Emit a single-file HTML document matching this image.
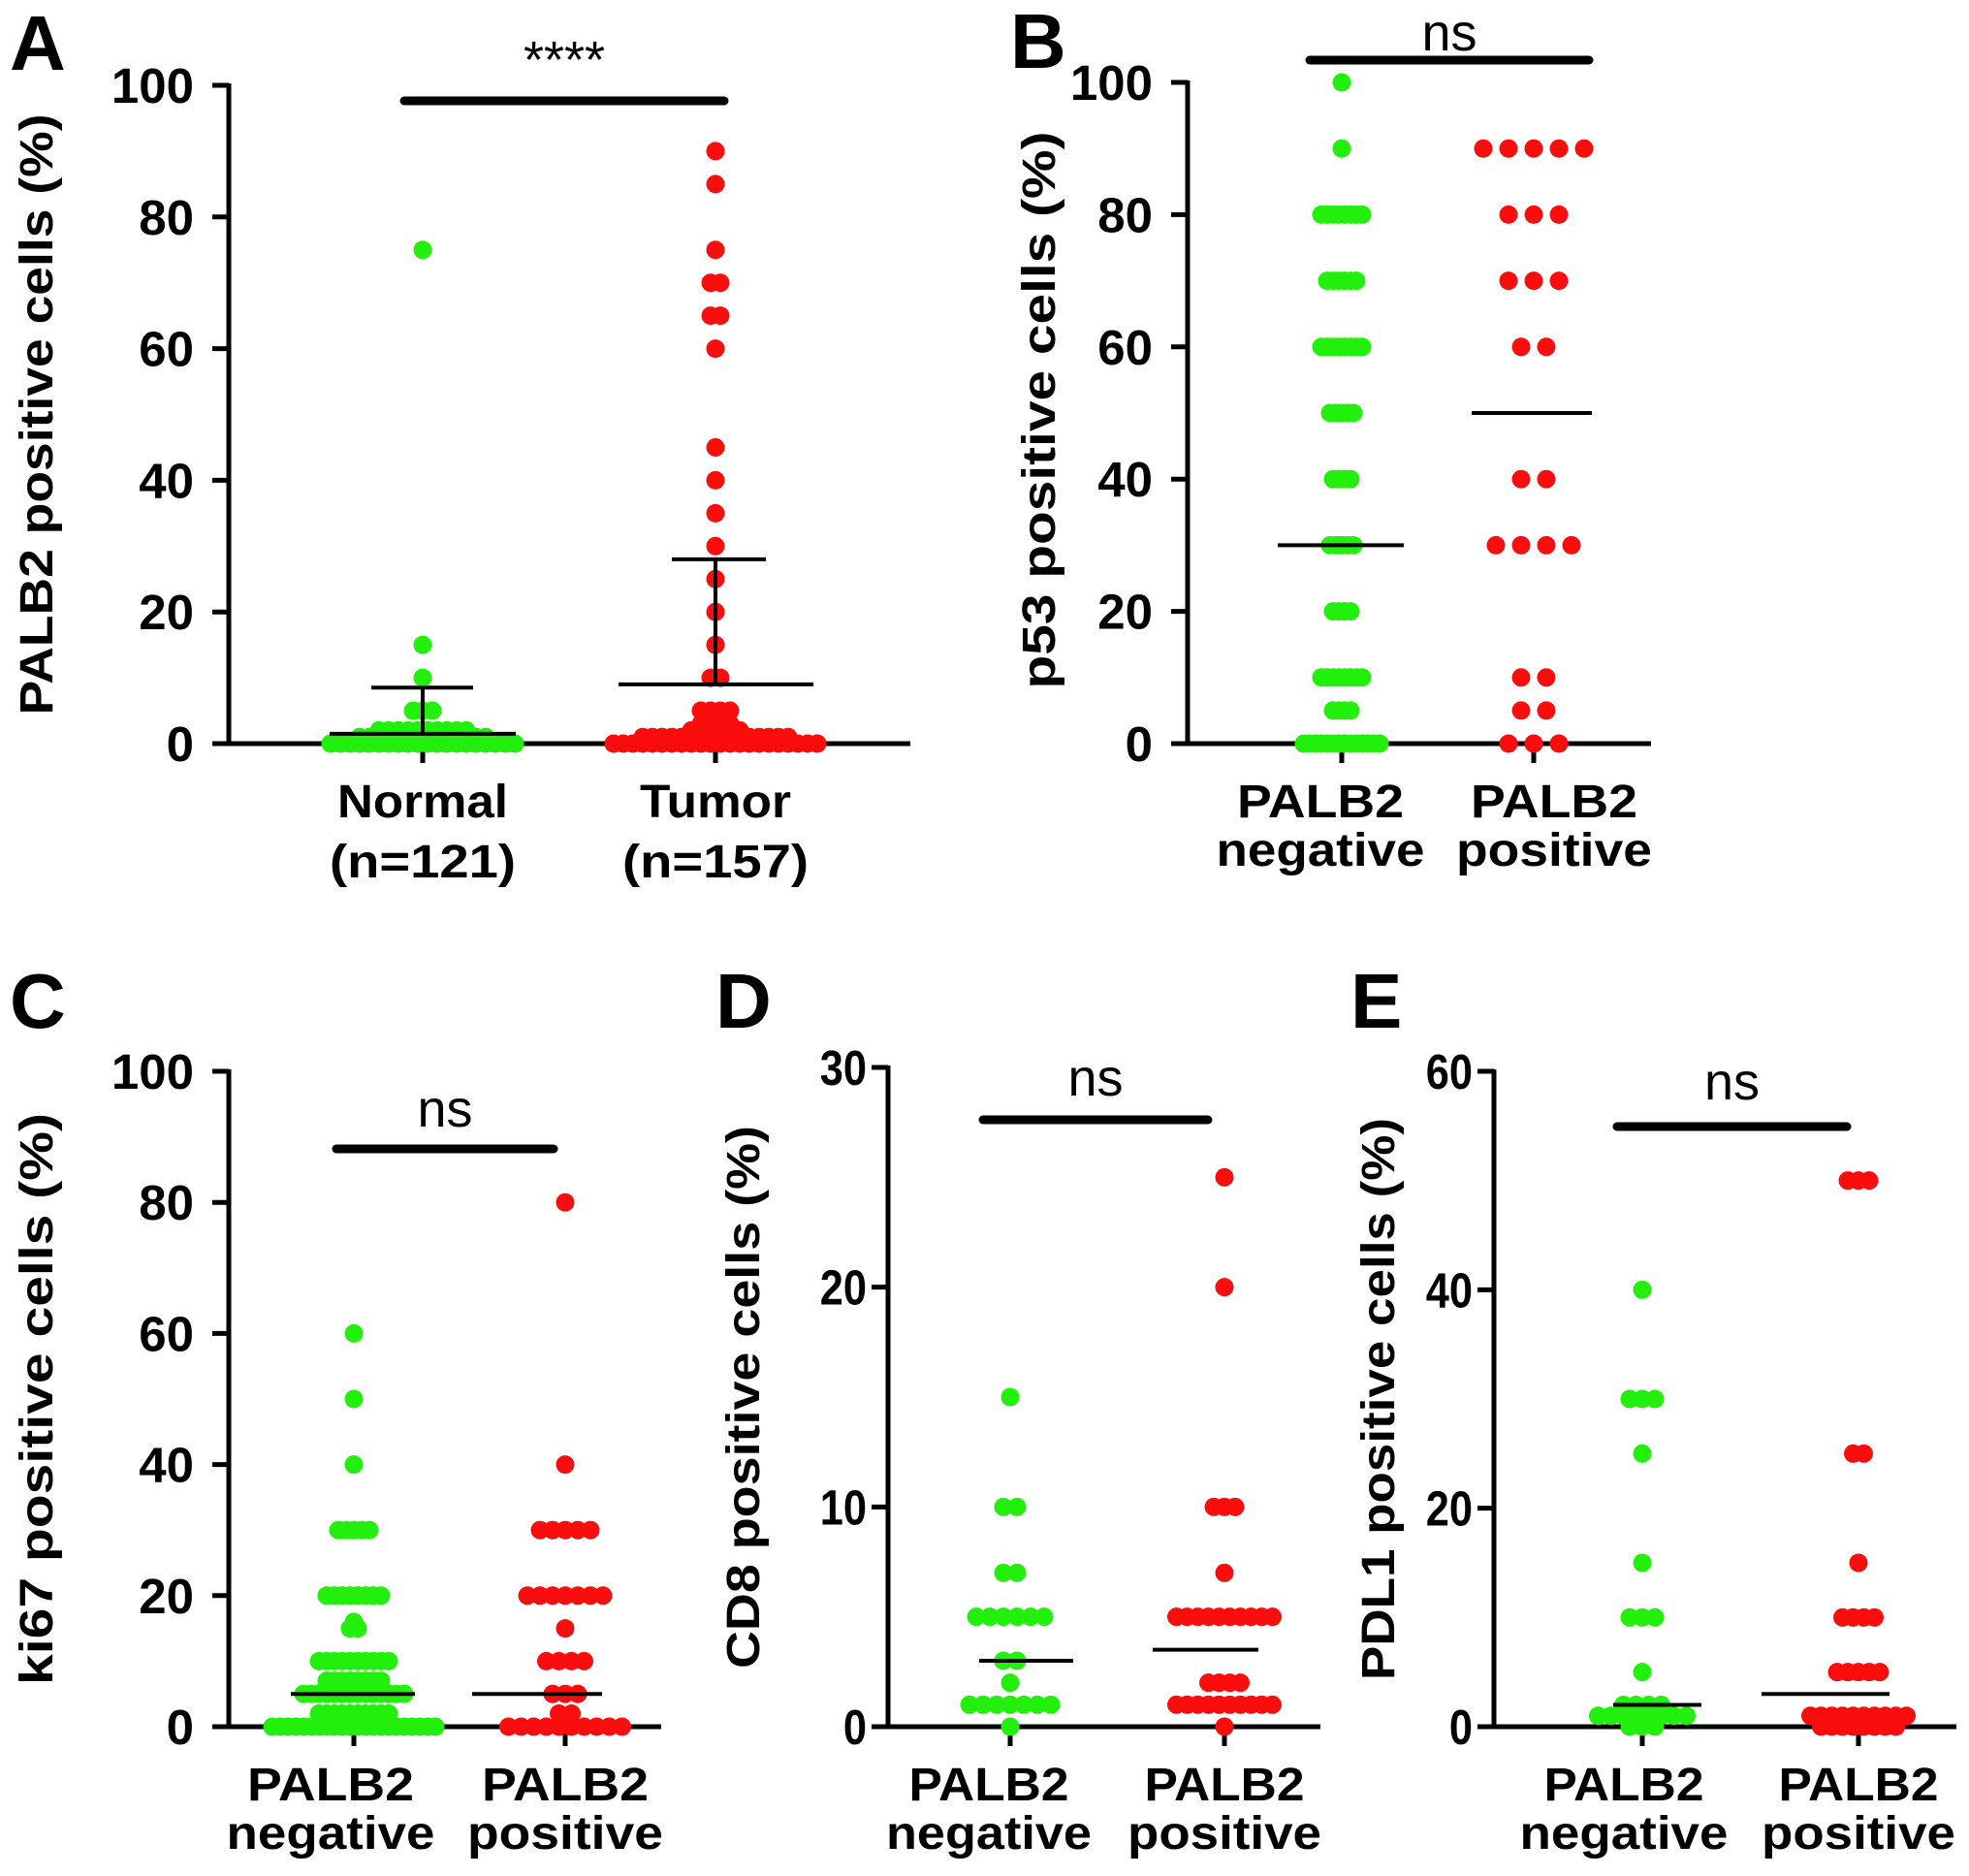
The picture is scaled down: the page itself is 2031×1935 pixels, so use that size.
<!DOCTYPE html>
<html><head><meta charset="utf-8">
<style>
html,body{margin:0;padding:0;background:#fff;}
svg{display:block;font-family:"Liberation Sans",Arial,sans-serif;font-weight:bold;}
</style></head>
<body>
<svg id="fig" width="2031" height="1935" viewBox="0 0 2031 1935" xmlns="http://www.w3.org/2000/svg"></svg>
<script>
// Panel A data: [value, count]
const aNormal = [[0,20],[1,14],[2,10],[5,3],[10,1],[15,1],[75,1]];
const aTumor = [[0,22],[1,16],[2,6],[3,4],[5,4],[10,2],[15,1],[20,1],[25,1],[30,1],[35,1],[40,1],[45,1],[60,1],[65,2],[70,2],[75,1],[85,1],[90,1]];
const aMean = [1.5, 9];
const aSD = [8.5, 28];
const aTicks = [0,20,40,60,80,100];
// Panel B
const bNeg = [[0,14],[5,4],[10,8],[20,4],[30,5],[40,4],[50,5],[60,8],[70,6],[80,8],[90,1],[100,1]];
const bPos = [[0,3],[5,2],[10,2],[30,4],[40,2],[60,2],[70,3],[80,3],[90,5]];
const bMed = [30, 50];
const bTicks = [0,20,40,60,80,100];
// Panel C
const cNeg = [[0,22],[2,10],[5,14],[7,8],[10,10],[15,2],[16,1],[20,8],[30,5],[40,1],[50,1],[60,1]];
const cPos = [[0,10],[2,2],[5,3],[10,4],[15,1],[20,7],[30,5],[40,1],[80,1]];
const cMed = [5, 5];
const cTicks = [0,20,40,60,80,100];
// Panel D
const dNeg = [[0,1],[1,7],[2,1],[3,2],[5,6],[7,2],[10,2],[15,1]];
const dPos = [[0,1],[1,10],[2,4],[5,10],[7,1],[10,3],[20,1],[25,1]];
const dMed = [3, 3.5];
const dTicks = [0,10,20,30];
// Panel E
const eNeg = [[0,3],[1,8],[2,4],[5,1],[10,3],[15,1],[25,1],[30,3],[40,1]];
const ePos = [[0,8],[1,10],[5,5],[10,4],[15,1],[25,2],[50,3]];
const eMed = [2, 3];
const eTicks = [0,20,40,60];

const NS="http://www.w3.org/2000/svg";
const svg=document.getElementById('fig');
function mk(tag,attrs,parent,text){const e=document.createElementNS(NS,tag);for(const k in attrs)e.setAttribute(k,attrs[k]);if(text!==undefined)e.textContent=text;(parent||svg).appendChild(e);return e;}

function panel(p){
  const g=mk('g',{});
  
  
  const y=v=>p.y0-(v-p.min)/(p.max-p.min)*(p.y0-p.yTop);
  const L=mk('text',{x:p.letterX,y:p.letterY,'font-size':80},g,p.letter);
  
  
  const ya=mk('line',{x1:p.ax,y1:p.yTop-2,x2:p.ax,y2:p.y0,stroke:'#000','stroke-width':5},g);
  
  
  const xa=mk('line',{x1:p.ax,y1:p.y0,x2:p.axEnd,y2:p.y0,stroke:'#000','stroke-width':5},g);
  
  
  p.ticks.forEach(t=>{
    mk('line',{x1:p.ax-17,y1:y(t),x2:p.ax,y2:y(t),stroke:'#000','stroke-width':5},g);
    const tx=p.ax-(p.cond?22:36);
    const tl=mk('text',{x:tx,y:y(t)+18,'font-size':p.tickFs,'text-anchor':'end',transform:p.cond?`translate(${tx},0) scale(0.85,1) translate(${-tx},0)`:''},g,String(t));
    
    
  });
  const cy=(p.y0+p.yTop)/2+p.titleDy;
  const yt=mk('text',{x:0,y:0,'font-size':p.titleFs,'text-anchor':'middle',textLength:p.titleLen,lengthAdjust:'spacingAndGlyphs',transform:`translate(${p.titleX},${cy}) rotate(-90)`},g,p.title);
  
  
  p.groups.forEach((gr,i)=>{
    const gx=p.gx[i];
    mk('line',{x1:gx,y1:p.y0,x2:gx,y2:p.y0+20,stroke:'#000','stroke-width':5},g);
    gr.data.forEach(([v,c])=>{
      for(let k=0;k<c;k++){
        const cx=gx+(k-(c-1)/2)*gr.step;
        const d=mk('circle',{cx:cx,cy:y(v),r:9.5,fill:gr.color},g);
        
        
      }
    });
    gr.labels.forEach((lb,j)=>{
      const t=mk('text',{x:p.labX[i],y:p.labY+j*p.labDy,'font-size':p.labFs,'text-anchor':'middle',textLength:gr.labLen[j],lengthAdjust:'spacingAndGlyphs'},g,lb);
      
      
    });
  });
  p.lines.forEach(ln=>{
    const l=mk('line',{x1:ln.x1,y1:y(ln.v),x2:ln.x2,y2:y(ln.v),stroke:'#000','stroke-width':4},g);
    
    
  });
  (p.vlines||[]).forEach(vl=>{
    mk('line',{x1:vl.x,y1:y(vl.a),x2:vl.x,y2:y(vl.b),stroke:'#000','stroke-width':4},g);
  });
  const sb=mk('line',{x1:p.sig[0],y1:p.sig[2],x2:p.sig[1],y2:p.sig[2],stroke:'#000','stroke-width':9,'stroke-linecap':'round'},g);
  
  
  const st=mk('text',{x:(p.sig[0]+p.sig[1])/2,y:p.sigTextY,'font-size':54,'font-weight':'normal','text-anchor':'middle'},g,p.sigText);
  
  
}

const G='#22f00c', R='#fb0d0d';
panel({id:'a',letter:'A',letterX:10,letterY:72,ax:236,axEnd:939,y0:767,yTop:88,min:0,max:100,ticks:aTicks,tickFs:51,
  title:'PALB2 positive cells (%)',titleX:54,titleDy:0,titleFs:48,titleLen:620,
  gx:[436,738],labX:[436,738],labY:843,labDy:62,labFs:48,
  groups:[{data:aNormal,step:10,color:G,labels:['Normal','(n=121)'],labLen:[176,192]},
          {data:aTumor,step:10,color:R,labels:['Tumor','(n=157)'],labLen:[156,192]}],
  lines:[{v:aMean[0],x1:340,x2:532},{v:aSD[0],x1:383,x2:488},{v:aMean[1],x1:638,x2:839},{v:aSD[1],x1:693,x2:790}],
  vlines:[{x:436,a:aMean[0],b:aSD[0]},{x:738,a:aMean[1],b:aSD[1]}],
  sig:[417,747,104],sigText:'****',sigTextY:80});
panel({id:'b',letter:'B',letterX:1042,letterY:70,ax:1225,axEnd:1703,y0:767,yTop:85,min:0,max:100,ticks:bTicks,tickFs:51,
  title:'p53 positive cells  (%)',titleX:1088,titleDy:-3,titleFs:48,titleLen:575,
  gx:[1384,1582],labX:[1362,1603],labY:843,labDy:50,labFs:48,
  groups:[{data:bNeg,step:6,color:G,labels:['PALB2','negative'],labLen:[172,215]},
          {data:bPos,step:26,color:R,labels:['PALB2','positive'],labLen:[172,202]}],
  lines:[{v:bMed[0],x1:1318,x2:1448},{v:bMed[1],x1:1518,x2:1642}],
  sig:[1351,1639,62],sigText:'ns',sigTextY:52});
panel({id:'c',letter:'C',letterX:10,letterY:1060,ax:236,axEnd:682,y0:1781,yTop:1105,min:0,max:100,ticks:cTicks,tickFs:51,
  title:'ki67 positive cells  (%)',titleX:54,titleDy:0,titleFs:48,titleLen:590,
  gx:[365,583],labX:[341,583],labY:1857,labDy:50,labFs:48,
  groups:[{data:cNeg,step:8,color:G,labels:['PALB2','negative'],labLen:[172,215]},
          {data:cPos,step:13,color:R,labels:['PALB2','positive'],labLen:[172,202]}],
  lines:[{v:cMed[0],x1:300,x2:428},{v:cMed[1],x1:487,x2:621}],
  sig:[347,571,1185],sigText:'ns',sigTextY:1162});
panel({id:'d',letter:'D',letterX:738,letterY:1060,ax:916,axEnd:1362,y0:1781,yTop:1101,min:0,max:30,ticks:dTicks,tickFs:51,cond:true,
  title:'CD8 positive cells  (%)',titleX:783,titleDy:0,titleFs:48,titleLen:560,
  gx:[1042,1263],labX:[1020,1263],labY:1857,labDy:50,labFs:48,
  groups:[{data:dNeg,step:14,color:G,labels:['PALB2','negative'],labLen:[165,212]},
          {data:dPos,step:11,color:R,labels:['PALB2','positive'],labLen:[165,200]}],
  lines:[{v:dMed[0],x1:1010,x2:1107},{v:dMed[1],x1:1189,x2:1298}],
  sig:[1014,1246,1155],sigText:'ns',sigTextY:1130});
panel({id:'e',letter:'E',letterX:1393,letterY:1060,ax:1541,axEnd:2018,y0:1781,yTop:1105,min:0,max:60,ticks:eTicks,tickFs:51,cond:true,
  title:'PDL1 positive cells  (%)',titleX:1438,titleDy:0,titleFs:48,titleLen:580,
  gx:[1694,1917],labX:[1675,1917],labY:1857,labDy:50,labFs:48,
  groups:[{data:eNeg,step:13,color:G,labels:['PALB2','negative'],labLen:[165,215]},
          {data:ePos,step:11,color:R,labels:['PALB2','positive'],labLen:[165,200]}],
  lines:[{v:eMed[0],x1:1664,x2:1755},{v:eMed[1],x1:1817,x2:1949}],
  sig:[1668,1905,1162],sigText:'ns',sigTextY:1134});
</script>
</body></html>
